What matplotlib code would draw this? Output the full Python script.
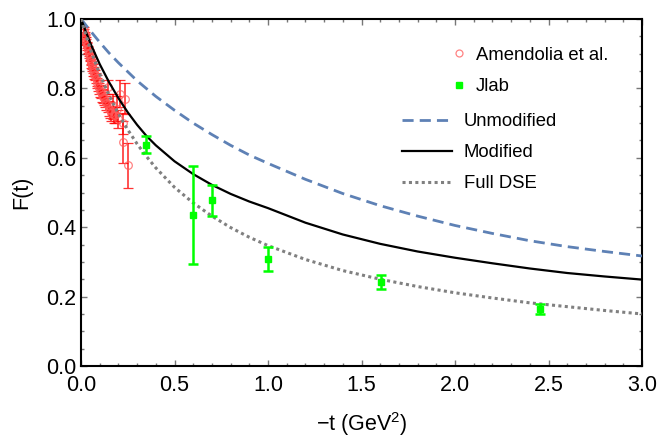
import matplotlib
matplotlib.use("Agg")
import matplotlib.pyplot as plt
from matplotlib.lines import Line2D
from matplotlib.ticker import MultipleLocator

plt.rcParams['font.family'] = ['Liberation Sans', 'DejaVu Sans']
plt.rcParams['mathtext.fontset'] = 'custom'
plt.rcParams['mathtext.rm'] = 'Liberation Sans'
plt.rcParams['mathtext.it'] = 'Liberation Sans'
plt.rcParams['mathtext.default'] = 'regular'

# ---------------- data ----------------
# Theory curves
t_unmod = [0, 0.05, 0.1, 0.15, 0.2, 0.3, 0.4, 0.5, 0.6, 0.7, 0.8, 0.9, 1.0,
           1.2, 1.4, 1.6, 1.8, 2.0, 2.2, 2.4, 2.6, 2.8, 3.0]
F_unmod = [1.000, 0.966, 0.933, 0.902, 0.874, 0.822, 0.777, 0.737, 0.700, 0.667,
           0.636, 0.608, 0.584, 0.538, 0.497, 0.462, 0.432, 0.405, 0.382, 0.361,
           0.344, 0.330, 0.317]

t_mod = [0, 0.05, 0.1, 0.15, 0.2, 0.25, 0.3, 0.35, 0.4, 0.5, 0.6, 0.7, 0.8, 0.9,
         1.0, 1.2, 1.4, 1.6, 1.8, 2.0, 2.2, 2.4, 2.6, 2.8, 3.0]
F_mod = [1.000, 0.930, 0.870, 0.818, 0.772, 0.731, 0.695, 0.663, 0.636, 0.590,
         0.553, 0.522, 0.496, 0.474, 0.455, 0.413, 0.379, 0.352, 0.330, 0.312,
         0.296, 0.281, 0.268, 0.258, 0.249]

t_dse = [0, 0.05, 0.1, 0.15, 0.2, 0.25, 0.3, 0.35, 0.4, 0.5, 0.6, 0.7, 0.8, 0.9,
         1.0, 1.2, 1.4, 1.6, 1.8, 2.0, 2.2, 2.4, 2.6, 2.8, 3.0]
F_dse = [1.000, 0.913, 0.842, 0.780, 0.727, 0.681, 0.640, 0.604, 0.571, 0.515,
         0.470, 0.432, 0.399, 0.371, 0.347, 0.307, 0.275, 0.250, 0.229, 0.211,
         0.196, 0.182, 0.171, 0.160, 0.150]

# Amendolia et al. data
t_am = [0.015, 0.017, 0.020, 0.022, 0.024, 0.027, 0.029, 0.032, 0.034, 0.037,
        0.039, 0.041, 0.044, 0.046, 0.049, 0.051, 0.054, 0.056, 0.059, 0.061,
        0.064, 0.066, 0.069, 0.071, 0.074, 0.078, 0.083, 0.088, 0.093, 0.098,
        0.103, 0.108, 0.113, 0.118, 0.123, 0.128, 0.135, 0.142, 0.146, 0.150,
        0.156, 0.163, 0.170, 0.177, 0.182, 0.190, 0.198, 0.209, 0.222, 0.227,
        0.235, 0.253]
F_am = [0.968, 0.962, 0.955, 0.950, 0.944, 0.938, 0.933, 0.925, 0.921, 0.913,
        0.910, 0.903, 0.899, 0.893, 0.889, 0.882, 0.878, 0.872, 0.868, 0.861,
        0.857, 0.850, 0.848, 0.840, 0.838, 0.829, 0.823, 0.815, 0.808, 0.800,
        0.793, 0.790, 0.780, 0.776, 0.772, 0.765, 0.757, 0.752, 0.805, 0.742,
        0.738, 0.728, 0.748, 0.722, 0.723, 0.742, 0.712, 0.785, 0.700, 0.646,
        0.770, 0.579]
E_am = [0.008, 0.008, 0.008, 0.008, 0.009, 0.009, 0.009, 0.009, 0.010, 0.010,
        0.010, 0.010, 0.011, 0.011, 0.011, 0.011, 0.012, 0.012, 0.012, 0.012,
        0.013, 0.013, 0.013, 0.013, 0.014, 0.014, 0.015, 0.015, 0.016, 0.016,
        0.017, 0.017, 0.018, 0.018, 0.019, 0.019, 0.020, 0.020, 0.020, 0.021,
        0.022, 0.022, 0.035, 0.023, 0.024, 0.035, 0.025, 0.040, 0.030, 0.060,
        0.045, 0.065]

# Jlab data
t_jl = [0.348, 0.597, 0.699, 0.998, 1.602, 2.455]
F_jl = [0.638, 0.435, 0.477, 0.308, 0.241, 0.165]
E_jl = [0.025, 0.140, 0.045, 0.035, 0.020, 0.015]

xticks = [0.0, 0.5, 1.0, 1.5, 2.0, 2.5, 3.0]
yticks = [0.0, 0.2, 0.4, 0.6, 0.8, 1.0]

# ---------------- figure ----------------
W, H = 662, 437
fig = plt.figure(figsize=(W / 100, H / 100), dpi=100)
ax = fig.add_axes([81 / W, 71 / H, 561 / W, 347 / H])

blue = '#5E81B5'
ax.errorbar(t_am, F_am, yerr=E_am, fmt='o', ms=5.5, mfc='none',
            mec=(1.0, 0.35, 0.35, 0.75), mew=0.9,
            ecolor=(1.0, 0.0, 0.0, 0.8), elinewidth=1.2, capsize=3.5,
            capthick=1.2, zorder=2)

ax.plot(t_unmod, F_unmod, color=blue, lw=2.0, dashes=(4, 2.2), zorder=3)
ax.plot(t_mod, F_mod, color='black', lw=1.6, zorder=3)
ax.plot(t_dse, F_dse, color='#808080', lw=2.2, dashes=(1, 1.1),
        dash_capstyle='butt', zorder=3)

ax.errorbar(t_jl, F_jl, yerr=E_jl, fmt='s', ms=5, color='#00FF00',
            ecolor='#00FF00', elinewidth=1.8, capsize=3.5, capthick=1.8,
            zorder=4)

ax.set_xlim(0, 3.0)
ax.set_ylim(0, 1.0)
ax.set_xticks(xticks)
ax.set_yticks(yticks)
ax.set_xticklabels([f'{v:.1f}' for v in xticks])
ax.set_yticklabels([f'{v:.1f}' for v in yticks])
ax.xaxis.set_minor_locator(MultipleLocator(0.1))
ax.yaxis.set_minor_locator(MultipleLocator(0.05))
ax.tick_params(which='both', direction='in', top=True, right=True,
               color='#777777', width=1.0)
ax.tick_params(which='major', length=4.5, labelsize=15.5)
ax.tick_params(which='minor', length=2.5)
ax.tick_params(axis='x', which='major', pad=6.5)
ax.tick_params(axis='y', which='major', pad=3.5)
for sp in ax.spines.values():
    sp.set_linewidth(1.5)
    sp.set_color('black')

ax.set_xlabel('−t (GeV$^2$)', fontsize=15.5, labelpad=10)
ax.set_ylabel('F(t)', fontsize=15.5, labelpad=10)

# legends
h_pts = [Line2D([], [], ls='none', marker='o', ms=5, mfc='none',
                mec=(1.0, 0.35, 0.35, 0.75), mew=0.9),
         Line2D([], [], ls='none', marker='s', ms=4.5, color='#00FF00')]
leg1 = ax.legend(h_pts, ['Amendolia et al.', 'Jlab'], loc='upper left',
                 bbox_to_anchor=(452 / W, (437 - 46.5) / H),
                 bbox_transform=fig.transFigure, frameon=False,
                 fontsize=13.3, handlelength=0.8, handletextpad=0.5,
                 borderpad=0, borderaxespad=0, labelspacing=0.8)
ax.add_artist(leg1)
h_lines = [Line2D([], [], color=blue, lw=2.0, dashes=(4, 2.2)),
           Line2D([], [], color='black', lw=1.6),
           Line2D([], [], color='#808080', lw=2.2, dashes=(1, 1.1))]
ax.legend(h_lines, ['Unmodified', 'Modified', 'Full DSE'], loc='upper left',
          bbox_to_anchor=(402 / W, (437 - 113) / H),
          bbox_transform=fig.transFigure, frameon=False,
          fontsize=13.3, handlelength=2.7, handletextpad=0.65,
          borderpad=0, borderaxespad=0, labelspacing=0.77)

fig.savefig('out.png', dpi=100)
